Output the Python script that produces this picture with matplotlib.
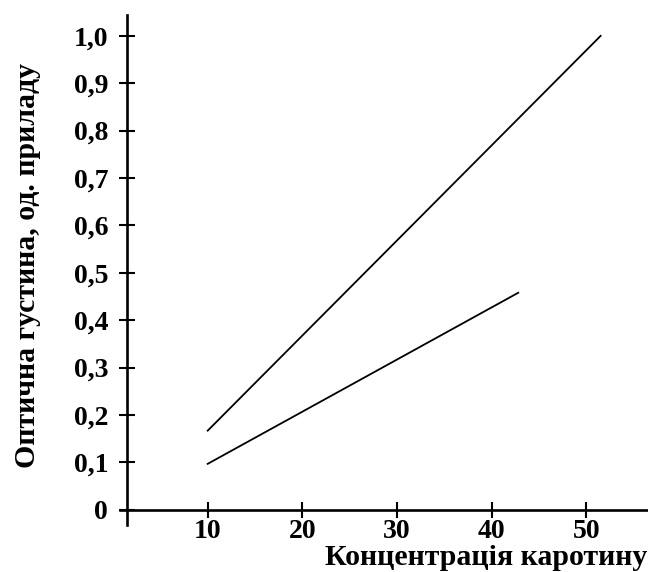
import matplotlib
matplotlib.use("Agg")
import matplotlib.pyplot as plt
from matplotlib.ticker import FuncFormatter

# Data
line1_x = [10, 51.5]
line1_y = [0.167, 1.0]
line2_x = [10, 42.8]
line2_y = [0.097, 0.458]
x_ticks = [10, 20, 30, 40, 50]
y_ticks = [0, 0.1, 0.2, 0.3, 0.4, 0.5, 0.6, 0.7, 0.8, 0.9, 1.0]
x_label = "Концентрація каротину"
y_label = "Оптична густина, од. приладу"

plt.rcParams['font.family'] = ['Liberation Serif', 'DejaVu Serif']
plt.rcParams['font.weight'] = 'bold'

fig = plt.figure(figsize=(6.48, 5.72), dpi=100)
ax = fig.add_axes([0.1852, 0.0822, 0.8148, 0.8916])

ax.plot(line1_x, line1_y, color='black', lw=1.3)
ax.plot(line2_x, line2_y, color='black', lw=1.3)

ax.set_xlim(0.74, 56.5)
ax.set_ylim(-0.032, 1.044)

for s in ['top', 'right']:
    ax.spines[s].set_visible(False)
ax.spines['left'].set_position(('data', 1.5))
ax.spines['bottom'].set_position(('data', 0))
ax.spines['left'].set_linewidth(1.9)
ax.spines['bottom'].set_linewidth(1.9)

ax.set_xticks(x_ticks)
ax.set_yticks(y_ticks)

def yfmt(v, pos):
    if abs(v) < 1e-9:
        return "0"
    return f"{v:.1f}".replace('.', ',')

ax.yaxis.set_major_formatter(FuncFormatter(yfmt))
ax.tick_params(axis='both', direction='inout', length=11.5, width=1.5,
               labelsize=20)
ax.tick_params(axis='y', pad=8)
ax.tick_params(axis='x', pad=1)
for lab in ax.get_xticklabels() + ax.get_yticklabels():
    lab.set_fontweight('bold')

fig.text(0.999, (572 - 565) / 572, x_label, ha='right', va='baseline',
         fontsize=21.5, fontweight='bold')
fig.text(28 / 648, (572 - 266) / 572, y_label, ha='center', va='center',
         rotation=90, fontsize=21.5, fontweight='bold')

fig.savefig("out.png", dpi=100)
